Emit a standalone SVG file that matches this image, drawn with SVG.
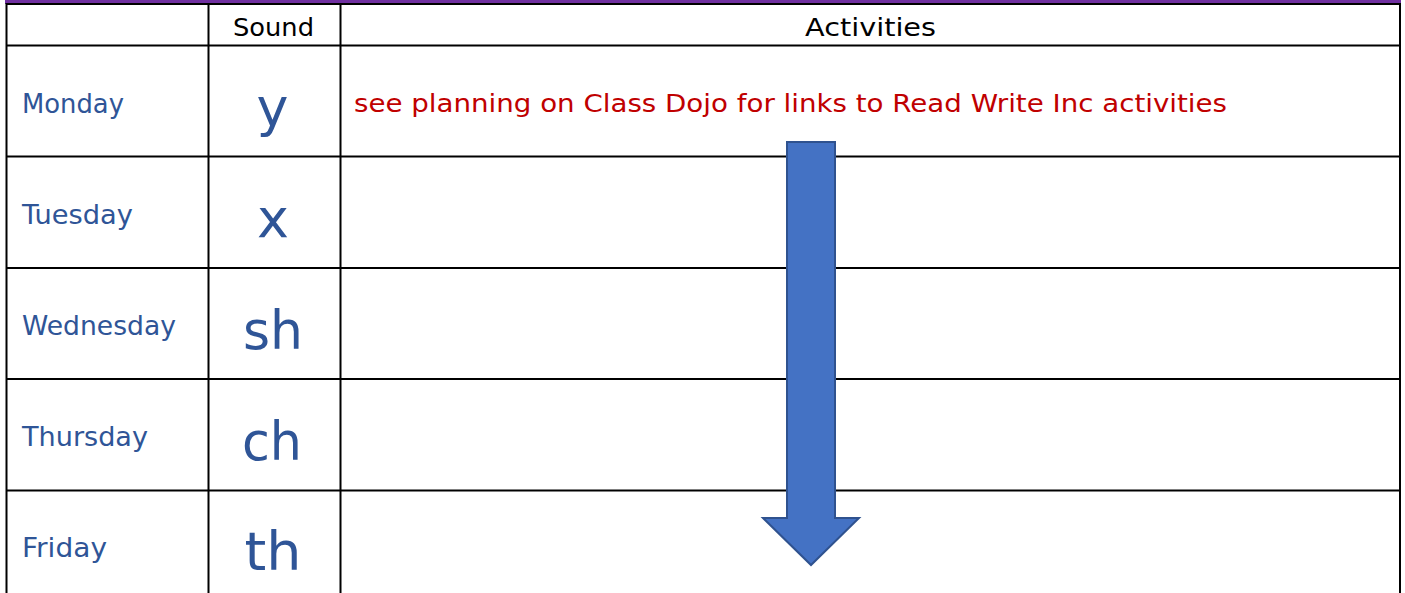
<svg xmlns="http://www.w3.org/2000/svg" width="1405" height="593" viewBox="0 0 1405 593">
<style>
.grid{stroke:#000;stroke-width:2;fill:none}
.hdr{font-family:"DejaVu Sans","Liberation Sans",sans-serif;font-size:25px;fill:#000;text-anchor:middle}
.day{font-family:"DejaVu Sans","Liberation Sans",sans-serif;font-size:27px;fill:#2F5597}
.snd{font-family:"DejaVu Sans","Liberation Sans",sans-serif;font-size:54px;fill:#2F5597;text-anchor:middle}
.note{font-family:"DejaVu Sans","Liberation Sans",sans-serif;font-size:25px;fill:#C00000}
</style>
<rect x="0" y="0" width="1405" height="593" fill="#fff"/>
<rect x="5" y="0" width="1396" height="4" fill="#7030A0"/>
<g id="table" class="grid">
<line x1="6" y1="4" x2="1400" y2="4"/>
<line x1="6" y1="45.5" x2="1400" y2="45.5"/>
<line x1="6" y1="156.5" x2="1400" y2="156.5"/>
<line x1="6" y1="268" x2="1400" y2="268"/>
<line x1="6" y1="379" x2="1400" y2="379"/>
<line x1="6" y1="490.5" x2="1400" y2="490.5"/>
<line x1="6.5" y1="3" x2="6.5" y2="593"/>
<line x1="208.5" y1="3" x2="208.5" y2="593"/>
<line x1="340.5" y1="3" x2="340.5" y2="593"/>
<line x1="1400" y1="3" x2="1400" y2="593"/>
</g>
<g id="header">
<text class="hdr" x="273.5" y="36" textLength="81" lengthAdjust="spacingAndGlyphs">Sound</text>
<text class="hdr" x="870.5" y="36" textLength="131" lengthAdjust="spacingAndGlyphs">Activities</text>
</g>
<g id="monday">
<text class="day" x="22" y="113" textLength="102" lengthAdjust="spacingAndGlyphs">Monday</text>
<text class="snd" x="272.5" y="126">y</text>
</g>
<g id="tuesday">
<text class="day" x="22" y="224" textLength="111" lengthAdjust="spacingAndGlyphs">Tuesday</text>
<text class="snd" x="273" y="237">x</text>
</g>
<g id="wednesday">
<text class="day" x="22" y="335" textLength="154" lengthAdjust="spacingAndGlyphs">Wednesday</text>
<text class="snd" x="273" y="349" textLength="60" lengthAdjust="spacingAndGlyphs">sh</text>
</g>
<g id="thursday">
<text class="day" x="22" y="446" textLength="126" lengthAdjust="spacingAndGlyphs">Thursday</text>
<text class="snd" x="272" y="460" textLength="60" lengthAdjust="spacingAndGlyphs">ch</text>
</g>
<g id="friday">
<text class="day" x="22" y="557" textLength="85" lengthAdjust="spacingAndGlyphs">Friday</text>
<text class="snd" x="273" y="570" textLength="57" lengthAdjust="spacingAndGlyphs">th</text>
</g>
<g id="note">
<text class="note" x="354" y="112" textLength="873" lengthAdjust="spacingAndGlyphs">see planning on Class Dojo for links to Read Write Inc activities</text>
</g>
<g id="connectors">
<polygon points="787,142 835,142 835,518 859,518 811,565 763,518 787,518" fill="#4472C4" stroke="#2F528F" stroke-width="2" stroke-linejoin="miter"/>
</g>
</svg>
